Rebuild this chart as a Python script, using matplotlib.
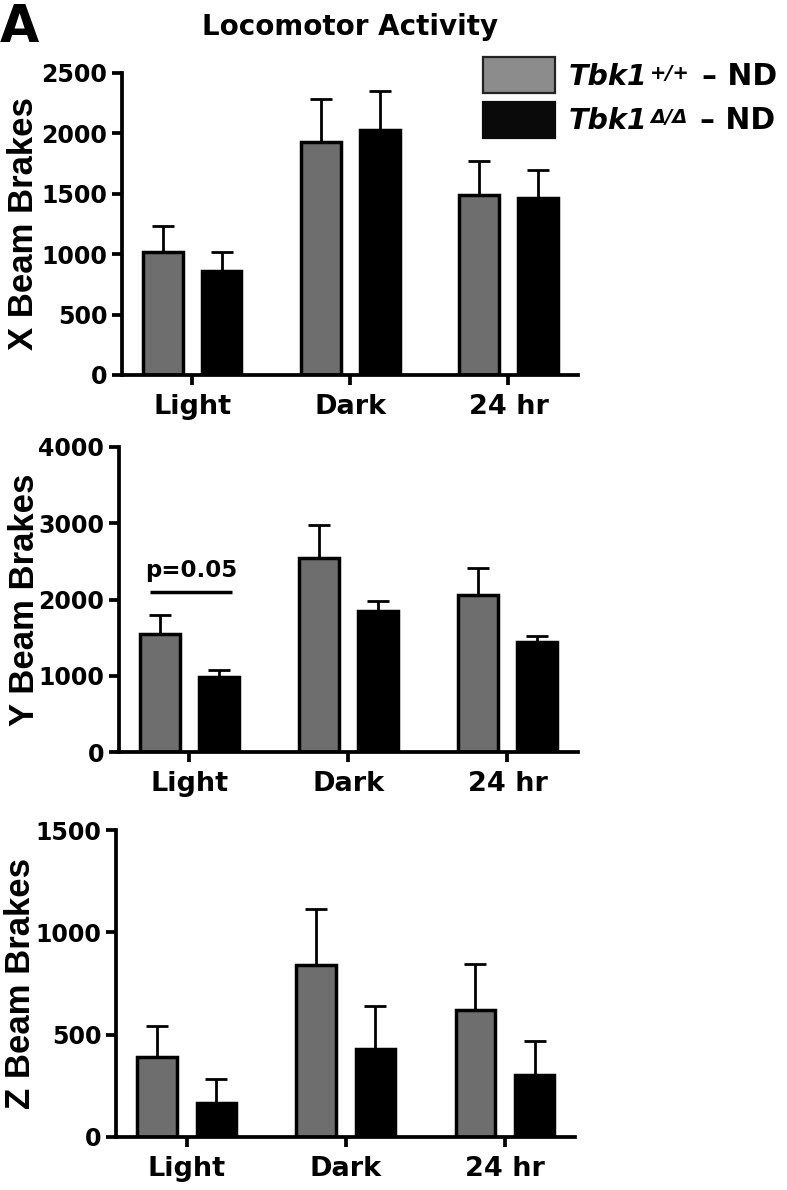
import numpy as np
import matplotlib
matplotlib.use("Agg")
import matplotlib.pyplot as plt
from matplotlib.patches import Rectangle
from matplotlib.text import Annotation

plt.rcParams['font.family'] = ['DejaVu Sans']
plt.rcParams['font.weight'] = 'bold'

# ---------------- data ----------------
categories = ['Light', 'Dark', '24 hr']

x_wt = [1020, 1925, 1490]
x_wt_err = [215, 357, 281]
x_ko = [857, 2025, 1468]
x_ko_err = [158, 326, 232]

y_wt = [1547, 2549, 2065]
y_wt_err = [248, 431, 353]
y_ko = [985, 1852, 1442]
y_ko_err = [91, 131, 79]

z_wt = [389, 838, 621]
z_wt_err = [154, 278, 222]
z_ko = [167, 428, 302]
z_ko_err = [117, 211, 168]

x_ticks = [0, 500, 1000, 1500, 2000, 2500]
y_ticks = [0, 1000, 2000, 3000, 4000]
z_ticks = [0, 500, 1000, 1500]

legend_gene = ['Tbk1', 'Tbk1']
legend_sup = ['+/+', 'Δ/Δ']
legend_diet = ['– ND', '– ND']
# --------------------------------------

W, H = 787, 1190
fig = plt.figure(figsize=(W / 100, H / 100), dpi=100)

def fx(px):
    return px / W

def fy(py):
    return 1 - py / H

def px_axes(left, right, top, bottom):
    return fig.add_axes([left / W, 1 - bottom / H, (right - left) / W, (bottom - top) / H])

GRAY = '#6e6e6e'
BW = 0.25
OFF = 0.186

def panel(ax, wt, wt_err, ko, ko_err, ticks, ylabel, label_x):
    xs = np.arange(len(categories))
    ax.errorbar(xs - OFF, wt, yerr=[np.zeros(len(wt)), wt_err], fmt='none',
                ecolor='black', elinewidth=2.0, capsize=8, capthick=2.0, zorder=1)
    ax.errorbar(xs + OFF, ko, yerr=[np.zeros(len(ko)), ko_err], fmt='none',
                ecolor='black', elinewidth=2.0, capsize=8, capthick=2.0, zorder=1)
    ax.bar(xs - OFF, wt, width=BW, color=GRAY, edgecolor='black', linewidth=2.5, zorder=2)
    ax.bar(xs + OFF, ko, width=BW, color='black', edgecolor='black', linewidth=2.5, zorder=2)
    ax.set_xlim(-0.445, 2.44)
    ax.set_ylim(0, ticks[-1])
    ax.set_yticks(ticks)
    ax.set_yticklabels([str(t) for t in ticks])
    ax.set_xticks(xs)
    ax.set_xticklabels(categories)
    for s in ['top', 'right']:
        ax.spines[s].set_visible(False)
    for s in ['left', 'bottom']:
        ax.spines[s].set_linewidth(2.7)
    ax.tick_params(axis='both', direction='out', length=7.5, width=2.7)
    ax.tick_params(axis='y', labelsize=17, pad=3)
    ax.tick_params(axis='x', labelsize=19.5, pad=6)
    ax.set_ylabel(ylabel, fontsize=25, fontweight='bold', family='Liberation Sans')
    ax.yaxis.set_label_coords(label_x, 0.5)

ax1 = px_axes(122, 578, 73, 375)
panel(ax1, x_wt, x_wt_err, x_ko, x_ko_err, x_ticks, 'X Beam Brakes', (40 - 122) / 456)

ax2 = px_axes(118.5, 577.5, 447, 752)
panel(ax2, y_wt, y_wt_err, y_ko, y_ko_err, y_ticks, 'Y Beam Brakes', (41 - 118.5) / 459)
ax2.plot([-0.25, 0.27], [2094, 2094], color='black', lw=2.5, solid_capstyle='butt')
ax2.text(0.01, 2290, 'p=0.05', ha='center', va='baseline', fontsize=16.5, fontweight='bold')

ax3 = px_axes(116, 575, 830, 1137)
panel(ax3, z_wt, z_wt_err, z_ko, z_ko_err, z_ticks, 'Z Beam Brakes', (37 - 116) / 459)

# legend (keys + labels)
key_colors = ['#8c8c8c', '#0a0a0a']
key_edges = ['#222222', '#0a0a0a']
key_tops = [57, 102]
baselines = [85, 129]
for i in range(2):
    fig.add_artist(Rectangle((fx(483), fy(key_tops[i] + 36)), fx(72), 36 / H,
                             transform=fig.transFigure, facecolor=key_colors[i],
                             edgecolor=key_edges[i], linewidth=1.6))
    t1 = fig.text(fx(569), fy(baselines[i]), legend_gene[i], ha='left', va='baseline',
                  fontsize=20.5, fontweight='bold', fontstyle='italic')
    t2 = fig.add_artist(Annotation(legend_sup[i], xy=(1, 1), xycoords=t1,
                                   xytext=(1.5, -1), textcoords='offset points',
                                   ha='left', va='top', fontsize=14,
                                   fontweight='bold', fontstyle='italic'))
    fig.add_artist(Annotation(legend_diet[i], xy=(1, 0), xycoords=(t2, t1),
                              xytext=(9, 0), textcoords='offset points',
                              ha='left', va='bottom', fontsize=21.5,
                              fontweight='bold'))

fig.text(350 / W, 1 - 35 / H, 'Locomotor Activity', ha='center', va='baseline',
         fontsize=20, fontweight='bold')
fig.text(0.0, 1 - 42 / H, 'A', ha='left', va='baseline', fontsize=36.5, fontweight='bold')

fig.savefig('out.png', dpi=100)
